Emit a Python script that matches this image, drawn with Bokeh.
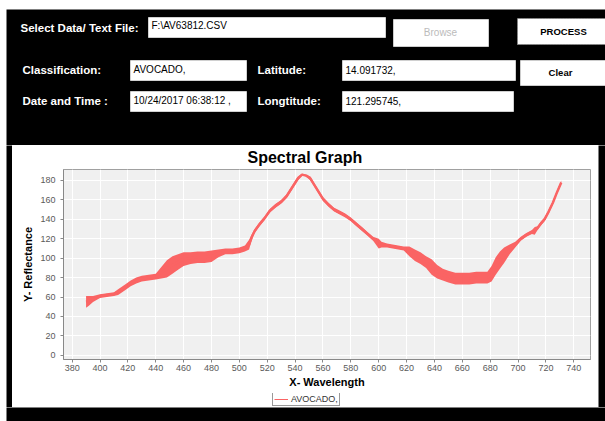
from bokeh.plotting import figure
from bokeh.layouts import column, row
from bokeh.models import Range1d, Legend, LegendItem, FixedTicker
from bokeh.core.properties import value
from bokeh.embed import file_html
from bokeh.resources import INLINE

# ---------------- data ----------------
wavelength = [390, 392, 395, 400, 405, 410, 413, 418, 422, 426, 430, 435, 440, 444, 448,
              452, 456, 460, 465, 470, 475, 480, 485, 490, 495, 500, 504, 507, 509, 511,
              514, 518, 522, 526, 530, 534, 538, 542, 545, 548, 551, 554, 557, 560, 564,
              568, 572, 576, 580, 584, 588, 592, 596, 600, 602, 606, 610, 614, 618, 622,
              626, 630, 634, 638, 642, 646, 650, 655, 660, 665, 670, 675, 678, 681, 684,
              687, 690, 694, 698, 702, 706, 710, 712, 714, 716, 719, 722, 725, 728, 731]
reflectance = [55, 56, 58, 61, 62, 63, 65, 70, 74, 77, 79, 80, 81, 85, 89,
               93, 96, 99, 100, 101, 101, 102, 105, 107, 107, 108, 110, 114, 122, 128,
               134, 141, 149, 154, 158, 164, 173, 182, 186, 185, 182, 175, 168, 161, 155,
               150, 147, 144, 140, 135, 130, 125, 120, 115, 114, 113, 112, 111, 110, 107,
               103, 100, 96, 91, 86, 83, 81, 79, 79, 79, 80, 80, 80, 84, 92,
               98, 103, 109, 114, 120, 124, 127, 128, 131, 135, 140, 148, 157, 168, 178]
# half height of the noisy band around the curve
spread = [6, 5, 3, 2, 2, 2, 3, 3, 3, 3, 3, 3, 3, 6, 9,
          9, 8, 7, 6, 6, 6, 6, 4, 3, 3, 3, 3, 5, 3, 2,
          2, 2, 2, 2, 2, 2, 2, 2, 1, 1, 2, 2, 2, 2, 2,
          2, 2, 2, 2, 2, 2, 2, 2, 5, 3, 2, 2, 2, 2, 5,
          6, 6, 6, 8, 7, 6, 6, 6, 6, 6, 6, 6, 6, 8, 9,
          9, 8, 5, 3, 2, 2, 2, 4, 2, 2, 2, 2, 2, 2, 2]
x_ticks = list(range(380, 741, 20))
y_ticks = list(range(0, 181, 20))
series_name = "AVOCADO,"

form_labels = ["Select Data/ Text File:", "Classification:", "Latitude:", "Date and Time :", "Longtitude:"]
field_texts = ["F:\\AV63812.CSV", "AVOCADO,", "14.091732,", "10/24/2017 06:38:12 ,", "121.295745,"]
button_texts = ["Browse", "PROCESS", "Clear"]

RED = "#FA6464"
FONT = value("Liberation Sans")
W = 599


def box(w, h, color):
    f = figure(width=w, height=h, x_range=Range1d(0, 1), y_range=Range1d(0, 1),
               output_backend="svg", toolbar_location=None, min_border=0,
               background_fill_color=color, border_fill_color=color,
               outline_line_color=None, x_axis_type=None, y_axis_type=None)
    f.grid.visible = False
    return f


# ---------------- form panel ----------------
FH = 136
form = figure(width=W, height=FH, x_range=Range1d(0, W), y_range=Range1d(FH, 0),
              output_backend="svg", toolbar_location=None, min_border=0,
              background_fill_color="black", border_fill_color="black",
              outline_line_color=None, x_axis_type=None, y_axis_type=None)
form.grid.visible = False

# text fields
fl = [142, 124, 336, 124, 336]
fr = [379, 240, 509, 240, 507]
ft = [8, 51, 51, 82, 82]
fb = [28, 71, 71, 102, 102]
form.quad(left=fl, right=fr, top=ft, bottom=fb, fill_color="white", line_color="#D0D0D0")
form.text(x=[v + 3 for v in fl], y=[16, 60, 60, 91, 91], text=field_texts,
          text_font=FONT, text_font_size="10px", text_color="black",
          text_baseline="middle", text_align="left")

# labels
form.text(x=[14, 16, 251, 16, 251], y=[18, 60, 60, 91, 91], text=form_labels,
          text_font=FONT, text_font_size="11.5px", text_font_style="bold",
          text_color="white", text_baseline="middle", text_align="left")

# buttons
form.quad(left=[387], right=[482], top=[10], bottom=[37], fill_color="white", line_color="#CCCCCC")
form.quad(left=[511], right=[599], top=[9], bottom=[35], fill_color="white",
          line_color="#888888", line_dash="2 1")
form.quad(left=[514], right=[599], top=[51], bottom=[76], fill_color="white", line_color="#CCCCCC")
form.text(x=[434], y=[23], text=[button_texts[0]], text_font=FONT, text_font_size="10px",
          text_color="#BBBBBB", text_baseline="middle", text_align="center")
form.text(x=[557, 554], y=[22, 63], text=button_texts[1:], text_font=FONT,
          text_font_size="9.5px", text_font_style="bold", text_color="black",
          text_baseline="middle", text_align="center")

# ---------------- chart ----------------
chart = figure(width=586, height=248, x_range=Range1d(373.8, 752), y_range=Range1d(-4.3, 191.3),
               output_backend="svg", toolbar_location=None,
               min_border_left=51, min_border_right=8, min_border_top=23, min_border_bottom=34,
               background_fill_color="#F0F0F0", border_fill_color="white",
               outline_line_color="#A0A0A0", title="Spectral Graph")
chart.title.align = "left"
chart.title.offset = 184
chart.title.vertical_align = "middle"
chart.title.text_font = "Liberation Sans"
chart.title.text_font_size = "16px"
chart.title.text_font_style = "bold"
chart.title.text_color = "black"
chart.title.standoff = 5

lower = [c - s for c, s in zip(reflectance, spread)]
upper = [c + s for c, s in zip(reflectance, spread)]
chart.varea(x=wavelength, y1=lower, y2=upper, fill_color=RED)
chart.line(wavelength, reflectance, line_color=RED, line_width=2.5)

chart.xaxis.ticker = FixedTicker(ticks=x_ticks)
chart.yaxis.ticker = FixedTicker(ticks=y_ticks)
for ax in (chart.xaxis, chart.yaxis):
    ax.minor_tick_line_color = None
    ax.major_tick_in = 0
    ax.major_tick_out = 3
    ax.major_tick_line_color = "#888888"
    ax.axis_line_color = "#888888"
    ax.major_label_text_font = "Liberation Sans"
    ax.major_label_text_font_size = "9px"
    ax.major_label_text_color = "#5A5A5A"
    ax.axis_label_text_font = "Liberation Sans"
    ax.axis_label_text_font_size = "11px"
    ax.axis_label_text_font_style = "bold"
    ax.axis_label_text_color = "black"
chart.xaxis.axis_label = "X- Wavelength"
chart.yaxis.axis_label = "Y- Reflectance"
chart.xaxis.major_label_standoff = 2
chart.xaxis.axis_label_standoff = 2
chart.yaxis.major_label_standoff = 5
chart.yaxis.axis_label_standoff = 3
chart.grid.grid_line_color = "white"
chart.grid.grid_line_width = 1

# ---------------- legend strip ----------------
leg_fig = figure(width=586, height=14, x_range=Range1d(0, 1), y_range=Range1d(0, 1),
                 output_backend="svg", toolbar_location=None, min_border=0,
                 background_fill_color="white", border_fill_color="white",
                 outline_line_color=None, x_axis_type=None, y_axis_type=None)
leg_fig.grid.visible = False
# the legend's renderer lies outside the strip's ranges, so only its legend glyph shows
legend_r = leg_fig.line(x=[5, 6], y=[5, 6], line_color=RED, line_width=1)
legend = Legend(items=[LegendItem(label=series_name, renderers=[legend_r])],
                location=(209, 1), orientation="horizontal",
                border_line_color="#333333", border_line_width=1,
                label_text_font="Liberation Sans", label_text_font_size="9px",
                label_text_color="#333333", padding=1, margin=0, spacing=0,
                glyph_width=14, glyph_height=10, label_height=10, label_standoff=3)
leg_fig.add_layout(legend)

main = column(form,
              row(box(6, 262, "black"), column(chart, leg_fig), box(7, 262, "black")),
              box(W, 14, "black"))
layout = column(box(605, 9, "white"), row(box(6, 412, "white"), main))

open("out.html", "w").write(file_html(layout, INLINE))
